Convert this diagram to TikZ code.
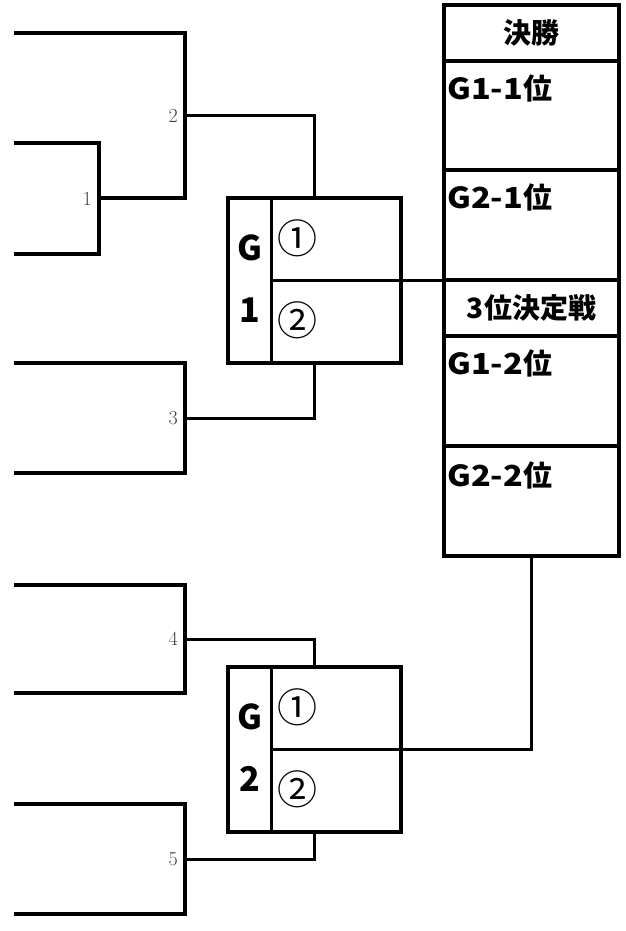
\documentclass[tikz,border=0pt]{standalone}
\usepackage{fontspec}
\newfontfamily\jpfont{Noto Sans CJK JP}
\newfontfamily\jpwidefont{Noto Sans CJK JP}[FakeStretch=1.12]
\usepackage{tikz}
\usetikzlibrary{positioning}

\begin{document}
\begin{tikzpicture}[x=1pt,y=-1pt,
    heavyline/.style={line width=3.6pt},
    feedline/.style={line width=3pt},
    matchno/.style={anchor=east,inner sep=0pt,text=black!75,font=\fontsize{20}{20}\selectfont},
    groupframe/.style={draw,heavyline,minimum width=173pt,minimum height=165pt,inner sep=0pt,outer sep=0pt},
    groupletter/.style={inner sep=0pt,font=\jpfont\bfseries\fontsize{34}{34}\selectfont},
    placemark/.style={inner sep=0pt,font=\jpfont\fontsize{40}{40}\selectfont},
    rowbox/.style={draw,heavyline,minimum width=175pt,inner sep=0pt,outer sep=0pt},
    rowtitle/.style={inner sep=0pt,font=\jpfont\bfseries\fontsize{28}{28}\selectfont},
    rowtext/.style={anchor=west,inner sep=0pt,font=\jpfont\bfseries\fontsize{29}{29}\selectfont}]

\useasboundingbox (0,0) rectangle (626,931);

\def\armstart{14}
\def\divoffset{43}

\newcommand\bracketthingy[6]
{
    \coordinate (#1-top) at (\armstart,#4);
    \coordinate (#1-bot) at (#2,#5);
    \draw[heavyline] (#1-top) -| (#3,#5) -- (#1-bot);
    \coordinate (#1-mid) at (#3,{(#4+#5)/2});
    \node[matchno] (#1-no) at ([xshift=-7pt]#1-mid) {#6};
}

\newcommand\groupthingy[3]
{
    \node[groupframe,anchor=north west] (#1) at (228,#2) {};
    \draw[feedline] ([xshift=\divoffset pt]#1.north west) coordinate (#1-dt) -- ([xshift=\divoffset pt]#1.south west) coordinate (#1-db);
    \coordinate (#1-mid) at (#1-dt |- #1.center);
    \node[groupletter] (#1-G) at ([xshift=22pt,yshift=-50pt]#1.north west) {G};
    \node[groupletter] (#1-n) at ([xshift=22pt,yshift=-112pt]#1.north west) {#3};
    \node[placemark] (#1-first) at ([xshift=69pt,yshift=-40pt]#1.north west) {①};
    \node[placemark] (#1-second) at ([xshift=69pt,yshift=-122pt]#1.north west) {②};
}

\newcommand\seedtext[2]{{\jpwidefont\bfseries G#1-#2}位}

\bracketthingy{b1}{\armstart}{99}{143}{254}{1}
\bracketthingy{b2}{99}{185}{33}{198}{2}
\bracketthingy{b3}{\armstart}{185}{363}{473}{3}
\bracketthingy{b4}{\armstart}{185}{585}{693}{4}
\bracketthingy{b5}{\armstart}{185}{804}{914}{5}

\groupthingy{g1}{198}{1}
\groupthingy{g2}{667}{2}

\node[rowbox,rowtitle,minimum height=56pt,anchor=north west] (r0) at (444,5) {決勝};
\foreach \i/\h in {1/109,2/110,3/56,4/110,5/110}
{
    \pgfmathtruncatemacro\j{\i-1}
    \node[rowbox,minimum height=\h pt,below=0pt of r\j] (r\i) {};
}
\node[rowtitle] (t3) at (r3) {3位決定戦};
\node[rowtext] (t1) at ([xshift=3pt,yshift=-27pt]r1.north west) {\seedtext{1}{1}};
\node[rowtext] (t2) at ([xshift=3pt,yshift=-27pt]r2.north west) {\seedtext{2}{1}};
\node[rowtext] (t4) at ([xshift=3pt,yshift=-27pt]r4.north west) {\seedtext{1}{2}};
\node[rowtext] (t5) at ([xshift=3pt,yshift=-29pt]r5.north west) {\seedtext{2}{2}};

\draw[feedline] (b2-mid) -| (g1.north);
\draw[feedline] (b3-mid) -| (g1.south);
\draw[feedline] (g1-mid) -- (g1-mid -| r3.west);
\draw[feedline] (b4-mid) -| (g2.north);
\draw[feedline] (b5-mid) -| (g2.south);
\draw[feedline] (g2-mid) -| (r5.south);

\end{tikzpicture}
\end{document}
